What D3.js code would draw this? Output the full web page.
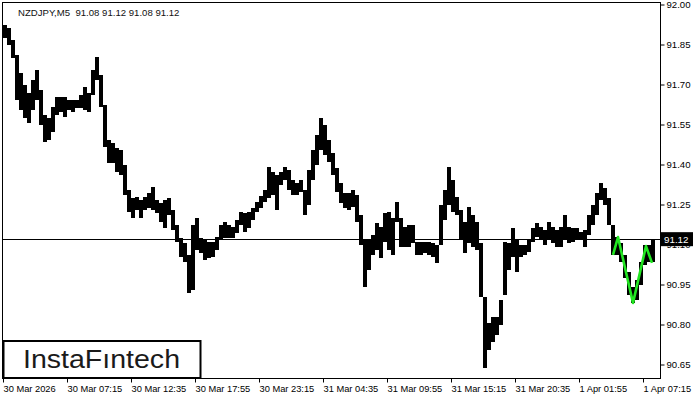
<!DOCTYPE html>
<html><head><meta charset="utf-8">
<script src="https://cdn.jsdelivr.net/npm/d3@7"></script>
<style>
html,body{margin:0;padding:0;background:#fff;}
svg{display:block;}
text{font-family:"Liberation Sans",Arial,sans-serif;}
</style></head>
<body><svg id="c" width="700" height="400"></svg>
<script>
// ---- data (20-minute aggregates of M5 bars: high / low) ----
const symbolTitle = "NZDJPY,M5  91.08 91.12 91.08 91.12";
const startTime = Date.UTC(2026, 2, 30, 1, 55);
const barMinutes = 5;
const barsPerSlot = 4;
const slotHigh = [
91.923,91.912,91.867,91.811,91.743,91.698,91.668,91.717,91.754,91.679,
91.586,91.574,91.616,91.653,91.653,91.653,91.642,91.642,91.642,91.661,
91.691,91.668,91.754,91.803,91.736,91.623,91.492,91.481,91.462,91.454,
91.398,91.304,91.274,91.278,91.267,91.278,91.293,91.316,91.267,91.256,
91.267,91.274,91.229,91.173,91.124,91.106,91.061,91.173,91.199,91.124,
91.117,91.109,91.109,91.128,91.173,91.184,91.173,91.166,91.192,91.222,
91.218,91.222,91.237,91.259,91.282,91.304,91.391,91.372,91.361,91.372,
91.391,91.379,91.342,91.331,91.342,91.304,91.379,91.454,91.511,91.574,
91.548,91.492,91.443,91.387,91.331,91.293,91.293,91.304,91.286,91.211,
91.117,91.117,91.136,91.181,91.166,91.218,91.222,91.199,91.259,91.199,
91.166,91.173,91.173,91.109,91.109,91.109,91.109,91.106,91.098,91.248,
91.304,91.391,91.342,91.278,91.229,91.184,91.241,91.211,91.184,91.106,
90.903,90.806,90.828,90.828,90.892,91.109,91.106,91.162,91.117,91.098,
91.098,91.117,91.162,91.181,91.166,91.154,91.184,91.166,91.154,91.166,
91.211,91.166,91.162,91.162,91.147,91.154,91.211,91.248,91.293,91.331,
91.312,91.274,91.173,91.128,91.106,91.061,90.997,90.941,90.967,91.034,
91.098,91.098,91.121];
const slotLow = [
91.874,91.848,91.799,91.642,91.604,91.574,91.556,91.604,91.642,91.548,
91.484,91.492,91.522,91.586,91.597,91.578,91.604,91.597,91.612,91.612,
91.604,91.597,91.661,91.717,91.616,91.466,91.406,91.406,91.372,91.361,
91.286,91.222,91.199,91.229,91.199,91.229,91.237,91.229,91.218,91.184,
91.162,91.211,91.154,91.109,91.053,91.034,90.918,90.929,91.079,91.068,
91.042,91.049,91.053,91.079,91.117,91.124,91.124,91.124,91.143,91.173,
91.147,91.162,91.192,91.222,91.237,91.259,91.274,91.286,91.229,91.323,
91.342,91.304,91.286,91.286,91.297,91.211,91.248,91.342,91.398,91.454,
91.436,91.409,91.361,91.297,91.256,91.237,91.229,91.241,91.184,91.098,
90.941,91.004,91.061,91.079,91.049,91.109,91.079,91.061,91.184,91.091,
91.091,91.091,91.106,91.061,91.061,91.068,91.061,91.053,91.031,91.098,
91.192,91.248,91.222,91.211,91.117,91.068,91.106,91.091,91.079,90.903,
90.637,90.704,90.734,90.761,90.798,90.911,91.004,91.053,90.997,91.053,
91.061,91.072,91.109,91.128,91.117,91.098,91.117,91.106,91.091,91.091,
91.117,91.106,91.109,91.117,91.117,91.091,91.136,91.173,91.211,91.267,
91.248,91.173,91.061,91.061,91.034,90.974,90.911,90.881,90.892,90.948,
91.023,91.034,91.034];
const currentPrice = 91.12;
const priceTicks = [92.00,91.85,91.70,91.55,91.40,91.25,91.10,90.95,90.80,90.65];
const timeTickLabels = ["30 Mar 2026","30 Mar 07:15","30 Mar 12:35","30 Mar 17:55","30 Mar 23:15",
  "31 Mar 04:35","31 Mar 09:55","31 Mar 15:15","31 Mar 20:35","1 Apr 01:55","1 Apr 07:15"];
const timeTickStepBars = 64;
// pattern overlay (bar index from start, price)
const patternBar = [610, 615, 630, 643, 649];
const patternPrice = [91.061, 91.128, 90.881, 91.094, 91.031];
const logoText = "InstaF\u0131ntech";
const totalBars = 657;

// ---- drawing ----
const svg = d3.select("#c");
const L = 2.5, R = 660.5, T = 2.5, B = 378.5;
const MS = 60000;
const t = i => new Date(startTime + i * barMinutes * MS);
const x = d3.scaleUtc().domain([t(0), t(totalBars)]).range([3, 660]);
const y = d3.scaleLinear().domain([90.65, 92.00]).range([364.5, 4.5]);

svg.append("rect").attr("width",700).attr("height",400).attr("fill","#fff");

// bars
const slots = slotHigh.map((h,k)=>({k, h, l: slotLow[k]}));
svg.append("g").attr("shape-rendering","crispEdges")
  .selectAll("rect").data(slots).join("rect")
  .attr("x", d => x(t(d.k*barsPerSlot)))
  .attr("width", d => x(t((d.k+1)*barsPerSlot)) - x(t(d.k*barsPerSlot)))
  .attr("y", d => Math.round(y(d.h)))
  .attr("height", d => Math.max(1, Math.round(y(d.l)) - Math.round(y(d.h))))
  .attr("fill", "#000");

// current price line
svg.append("line").attr("x1", L).attr("x2", R)
  .attr("y1", Math.round(y(currentPrice))+0.5).attr("y2", Math.round(y(currentPrice))+0.5)
  .attr("stroke","#000").attr("stroke-width",1);

// pattern
const pts = patternBar.map((b,i)=>[x(t(b)), y(patternPrice[i])]);
svg.append("path").attr("d", d3.line()(pts)).attr("fill","none")
  .attr("stroke","#22e622").attr("stroke-width",2.6).attr("stroke-linejoin","round");

// frame
svg.append("rect").attr("x",L).attr("y",T).attr("width",R-L).attr("height",B-T)
  .attr("fill","none").attr("stroke","#000").attr("stroke-width",1);

// y axis
const yAxis = d3.axisRight(y).tickValues(priceTicks).tickFormat(d3.format(".2f")).tickSize(4).tickPadding(2);
const gy = svg.append("g").attr("transform",`translate(${R},0)`).call(yAxis);
gy.select(".domain").remove();
gy.selectAll("text").attr("font-size","9.6px").attr("fill","#000").attr("font-family","Liberation Sans, Arial, sans-serif");
gy.selectAll("line").attr("stroke","#000");

// x axis
const xTickVals = timeTickLabels.map((_,i)=>t(i*timeTickStepBars));
const xAxis = d3.axisBottom(x).tickValues(xTickVals).tickFormat((d,i)=>timeTickLabels[i]).tickSize(4).tickPadding(3);
const gx = svg.append("g").attr("transform",`translate(0,${B})`).call(xAxis);
gx.select(".domain").remove();
gx.selectAll("text").attr("text-anchor","start").attr("font-size","9.3px").attr("fill","#000")
  .attr("font-family","Liberation Sans, Arial, sans-serif").attr("dx","0px");
gx.selectAll("line").attr("stroke","#000");

// current price label
const cyp = y(currentPrice);
svg.append("rect").attr("x",661).attr("y",cyp-7).attr("width",32).attr("height",14).attr("fill","#000");
svg.append("text").attr("x",664).attr("y",cyp+3.5).attr("fill","#fff").attr("font-size","9.8px")
  .text(d3.format(".2f")(currentPrice));

// title
svg.append("text").attr("x",18).attr("y",15.5).attr("font-size","9.6px").attr("fill","#111")
  .attr("xml:space","preserve").style("white-space","pre").text(symbolTitle);

// logo
svg.append("rect").attr("x",3.5).attr("y",341).attr("width",197).attr("height",37)
  .attr("fill","#fff").attr("stroke","#000").attr("stroke-width",2);
svg.append("text").attr("x",23).attr("y",368).attr("font-family","Roboto, sans-serif")
  .attr("font-size","25px").attr("fill","#1a1a1a").attr("textLength",157).attr("lengthAdjust","spacingAndGlyphs")
  .text(logoText);
</script></body></html>
